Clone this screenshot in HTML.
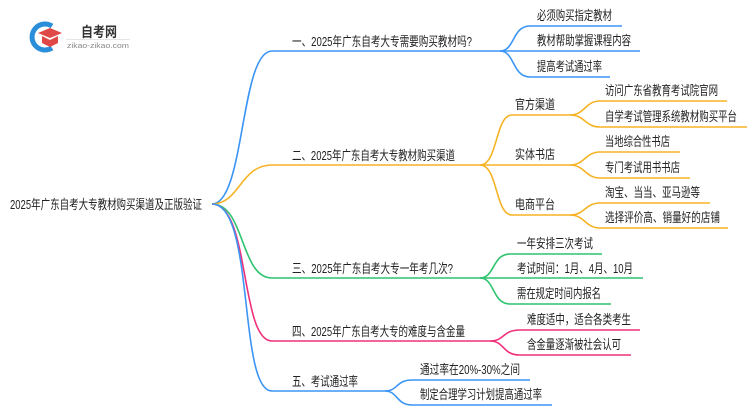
<!DOCTYPE html>
<html><head><meta charset="utf-8"><style>
html,body{margin:0;padding:0;background:#fff;width:750px;height:410px;overflow:hidden}
svg text{font-family:"Liberation Sans","Noto Sans CJK SC",sans-serif;font-size:13px;fill:#222}
</style></head><body>
<svg width="750" height="410" viewBox="0 0 750 410" xmlns="http://www.w3.org/2000/svg" fill="none" stroke-width="1.6">
<!-- logo -->
<path d="M52 26 A13 13 0 1 0 52 48" stroke="#2a8fd8" stroke-width="5"/>
<path d="M38 33 L50 28 L62 33 L50 38 Z" fill="#e04848" stroke="none"/>
<path d="M42 36 L42 43 L50 47 L58 43 L58 36 L50 40 Z" fill="#e04848" stroke="none"/>
<text x="81" y="37" style="font-size:14px;font-weight:bold;fill:#333" textLength="36" lengthAdjust="spacingAndGlyphs">自考网</text>
<text x="67" y="48" style="font-size:7.5px;fill:#888" textLength="62" lengthAdjust="spacingAndGlyphs">zikao-zikao.com</text>
<line x1="66" y1="39.5" x2="130" y2="39.5" stroke="#ddd" stroke-width="0.8"/>
<!-- root -->
<text x="10" y="209" textLength="192" lengthAdjust="spacingAndGlyphs">2025年广东自考大专教材购买渠道及正版验证</text>
<!-- branch1 blue -->
<g stroke="#3a95f5">
<path d="M212 204 C245 204 240 51 272 51 L500 51"/>
<path d="M500 51 C515 51 512 26 530 26 L622 26"/>
<path d="M500 51 L640 51"/>
<path d="M500 51 C515 51 512 77 530 77 L610 77"/>
</g>
<text x="292" y="46" textLength="180" lengthAdjust="spacingAndGlyphs">一、2025年广东自考大专需要购买教材吗?</text>
<text x="537" y="20" textLength="75" lengthAdjust="spacingAndGlyphs">必须购买指定教材</text>
<text x="537" y="45" textLength="94" lengthAdjust="spacingAndGlyphs">教材帮助掌握课程内容</text>
<text x="537" y="71" textLength="65" lengthAdjust="spacingAndGlyphs">提高考试通过率</text>
<!-- branch2 orange -->
<g stroke="#f5b324">
<path d="M212 204 C240 204 240 165 272 165 L480 165"/>
<path d="M480 165 C498 165 495 115 512 115 L570 115"/>
<path d="M480 165 L570 165"/>
<path d="M480 165 C498 165 495 215 512 215 L570 215"/>
<path d="M570 115 C585 115 585 101 600 101 L727 101"/>
<path d="M570 115 C585 115 585 127 600 127 L747 127"/>
<path d="M570 165 C585 165 585 152 600 152 L680 152"/>
<path d="M570 165 C585 165 585 178 600 178 L690 178"/>
<path d="M570 215 C585 215 585 203 600 203 L710 203"/>
<path d="M570 215 C585 215 585 228 600 228 L728 228"/>
</g>
<text x="292" y="160" textLength="163" lengthAdjust="spacingAndGlyphs">二、2025年广东自考大专教材购买渠道</text>
<text x="515" y="109" textLength="40" lengthAdjust="spacingAndGlyphs">官方渠道</text>
<text x="515" y="159" textLength="40" lengthAdjust="spacingAndGlyphs">实体书店</text>
<text x="515" y="209" textLength="40" lengthAdjust="spacingAndGlyphs">电商平台</text>
<text x="605" y="95" textLength="113" lengthAdjust="spacingAndGlyphs">访问广东省教育考试院官网</text>
<text x="605" y="121" textLength="132" lengthAdjust="spacingAndGlyphs">自学考试管理系统教材购买平台</text>
<text x="605" y="146" textLength="65" lengthAdjust="spacingAndGlyphs">当地综合性书店</text>
<text x="605" y="172" textLength="75" lengthAdjust="spacingAndGlyphs">专门考试用书书店</text>
<text x="605" y="197" textLength="95" lengthAdjust="spacingAndGlyphs">淘宝、当当、亚马逊等</text>
<text x="605" y="222" textLength="115" lengthAdjust="spacingAndGlyphs">选择评价高、销量好的店铺</text>
<!-- branch3 green -->
<g stroke="#2ec470">
<path d="M212 204 C245 204 240 278 272 278 L480 278"/>
<path d="M480 278 C495 278 492 254 510 254 L602 254"/>
<path d="M480 278 L643 278"/>
<path d="M480 278 C495 278 492 304 510 304 L611 304"/>
</g>
<text x="292" y="273" textLength="161" lengthAdjust="spacingAndGlyphs">三、2025年广东自考大专一年考几次?</text>
<text x="517" y="248" textLength="76" lengthAdjust="spacingAndGlyphs">一年安排三次考试</text>
<text x="517" y="273" textLength="116" lengthAdjust="spacingAndGlyphs">考试时间：1月、4月、10月</text>
<text x="517" y="298" textLength="84" lengthAdjust="spacingAndGlyphs">需在规定时间内报名</text>
<!-- branch4 pink -->
<g stroke="#f0307a">
<path d="M212 204 C250 204 240 341 272 341 L490 341"/>
<path d="M490 341 C505 341 502 330 520 330 L640 330"/>
<path d="M490 341 C505 341 502 355 520 355 L631 355"/>
</g>
<text x="292" y="336" textLength="173" lengthAdjust="spacingAndGlyphs">四、2025年广东自考大专的难度与含金量</text>
<text x="527" y="324" textLength="104" lengthAdjust="spacingAndGlyphs">难度适中，适合各类考生</text>
<text x="527" y="349" textLength="94" lengthAdjust="spacingAndGlyphs">含金量逐渐被社会认可</text>
<!-- branch5 blue -->
<g stroke="#3a95f5">
<path d="M212 204 C255 204 238 391 272 391 L385 391"/>
<path d="M385 391 C398 391 396 380 412 380 L530 380"/>
<path d="M385 391 C398 391 396 405 412 405 L552 405"/>
</g>
<text x="292" y="386" textLength="66" lengthAdjust="spacingAndGlyphs">五、考试通过率</text>
<text x="420" y="374" textLength="100" lengthAdjust="spacingAndGlyphs">通过率在20%-30%之间</text>
<text x="420" y="399" textLength="122" lengthAdjust="spacingAndGlyphs">制定合理学习计划提高通过率</text>
</svg>
</body></html>
